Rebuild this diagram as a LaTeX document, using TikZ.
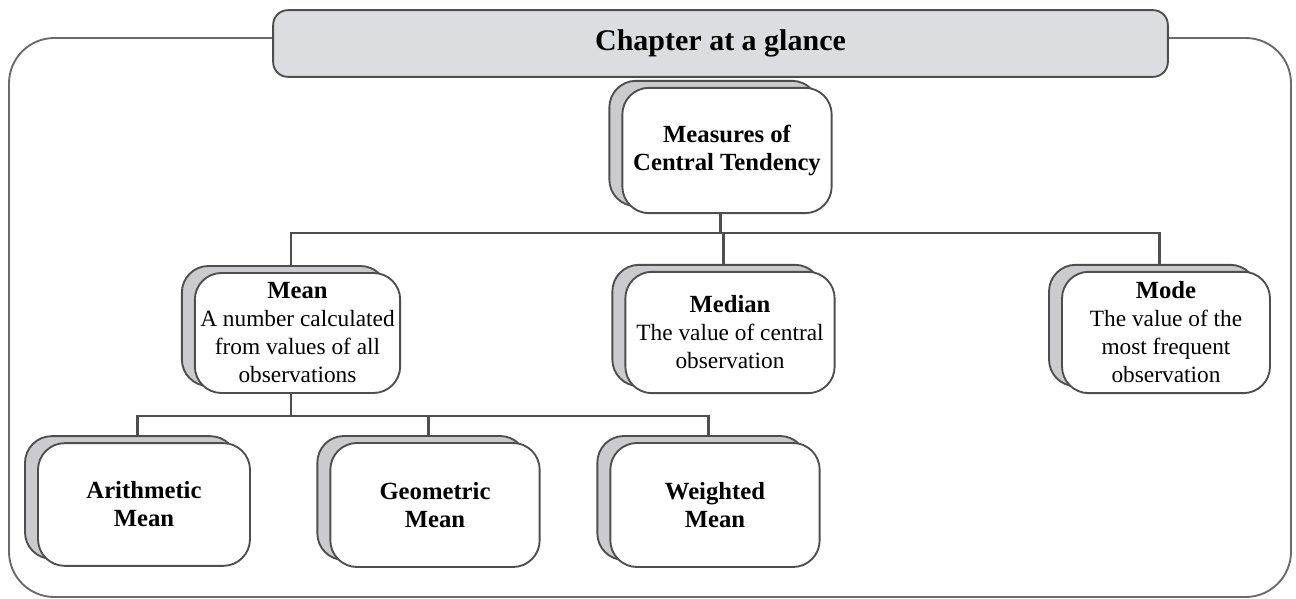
\documentclass[tikz,border=0pt]{standalone}
\usepackage{fontspec}
\setmainfont{Liberation Serif}
\usetikzlibrary{shadows,backgrounds,calc}
\definecolor{linec}{HTML}{4E4E4E}
\definecolor{framec}{HTML}{6A6A6A}
\definecolor{shadowc}{HTML}{CBCBCD}
\definecolor{titlec}{HTML}{DCDDE0}
\newcommand{\hd}[1]{{\fontsize{18.5}{21}\selectfont\bfseries #1}}
\tikzset{
  stackbox/.style={draw=linec, line width=1.4pt, fill=white, rounded corners=20pt,
    align=center, inner sep=2pt, font=\fontsize{17.5}{21}\selectfont,
    copy shadow={shadow xshift=-9.75pt, shadow yshift=5.25pt, fill=shadowc, draw=linec, line width=1.4pt}},
  conn/.style={draw=linec, line width=1.6pt},
  titlebox/.style={draw=linec, line width=1.4pt, fill=titlec, rounded corners=11pt,
    font=\bfseries\fontsize{22.5}{26}\selectfont},
}
\begin{document}
\begin{tikzpicture}[x=0.75pt,y=-0.75pt]
\useasboundingbox (0,0) rectangle (1296,599);
% outer frame
\draw[draw=framec, line width=1.4pt, rounded corners=34pt] (9,38) rectangle (1291,597);
% title
\node[titlebox, minimum width=671pt, minimum height=50pt] (title) at (720.5,43.5) {Chapter at a glance};
% nodes
\node[stackbox, minimum width=157pt, minimum height=94pt] (meas) at (727,150.5)
  {\hd{Measures of}\\\hd{Central Tendency}};
\node[stackbox, minimum width=154pt, minimum height=90pt] (mean) at (297.5,333)
  {\hd{Mean}\\A number calculated\\from values of all\\observations};
\node[stackbox, minimum width=157pt, minimum height=91pt] (med) at (730,332.5)
  {\hd{Median}\\The value of central\\observation};
\node[stackbox, minimum width=156pt, minimum height=91pt] (mode) at (1166,332.5)
  {\hd{Mode}\\The value of the\\most frequent\\observation};
\node[stackbox, minimum width=159pt, minimum height=92pt] (arith) at (144,504.5)
  {\hd{Arithmetic}\\\hd{Mean}};
\node[stackbox, minimum width=157pt, minimum height=93pt] (geo) at (435,505)
  {\hd{Geometric}\\\hd{Mean}};
\node[stackbox, minimum width=157pt, minimum height=93pt] (wgt) at (715,505)
  {\hd{Weighted}\\\hd{Mean}};
% connectors
\begin{scope}[on background layer]
\coordinate (ms) at ($(meas.south)+(-6.5,0)$);
\coordinate (b1) at ($(ms)+(0,19)$);
\coordinate (mt) at ($(mean.north)+(-6.5,0)$);
\coordinate (mdt) at ($(med.north)+(-6.5,0)$);
\coordinate (mot) at ($(mode.north)+(-6.5,0)$);
\draw[conn] (ms) -- (b1);
\draw[conn] (mt) -- (mt |- b1) -- (mot |- b1) -- (mot);
\draw[conn] (mdt) -- (mdt |- b1);
\coordinate (mb) at ($(mean.south)+(-6.5,0)$);
\coordinate (b2) at ($(mb)+(0,22)$);
\coordinate (at) at ($(arith.north)+(-6.5,0)$);
\coordinate (gt) at ($(geo.north)+(-6.5,0)$);
\coordinate (wt) at ($(wgt.north)+(-6.5,0)$);
\draw[conn] (mb) -- (b2);
\draw[conn] (at) -- (at |- b2) -- (wt |- b2) -- (wt);
\draw[conn] (gt) -- (gt |- b2);
\end{scope}
\end{tikzpicture}
\end{document}
